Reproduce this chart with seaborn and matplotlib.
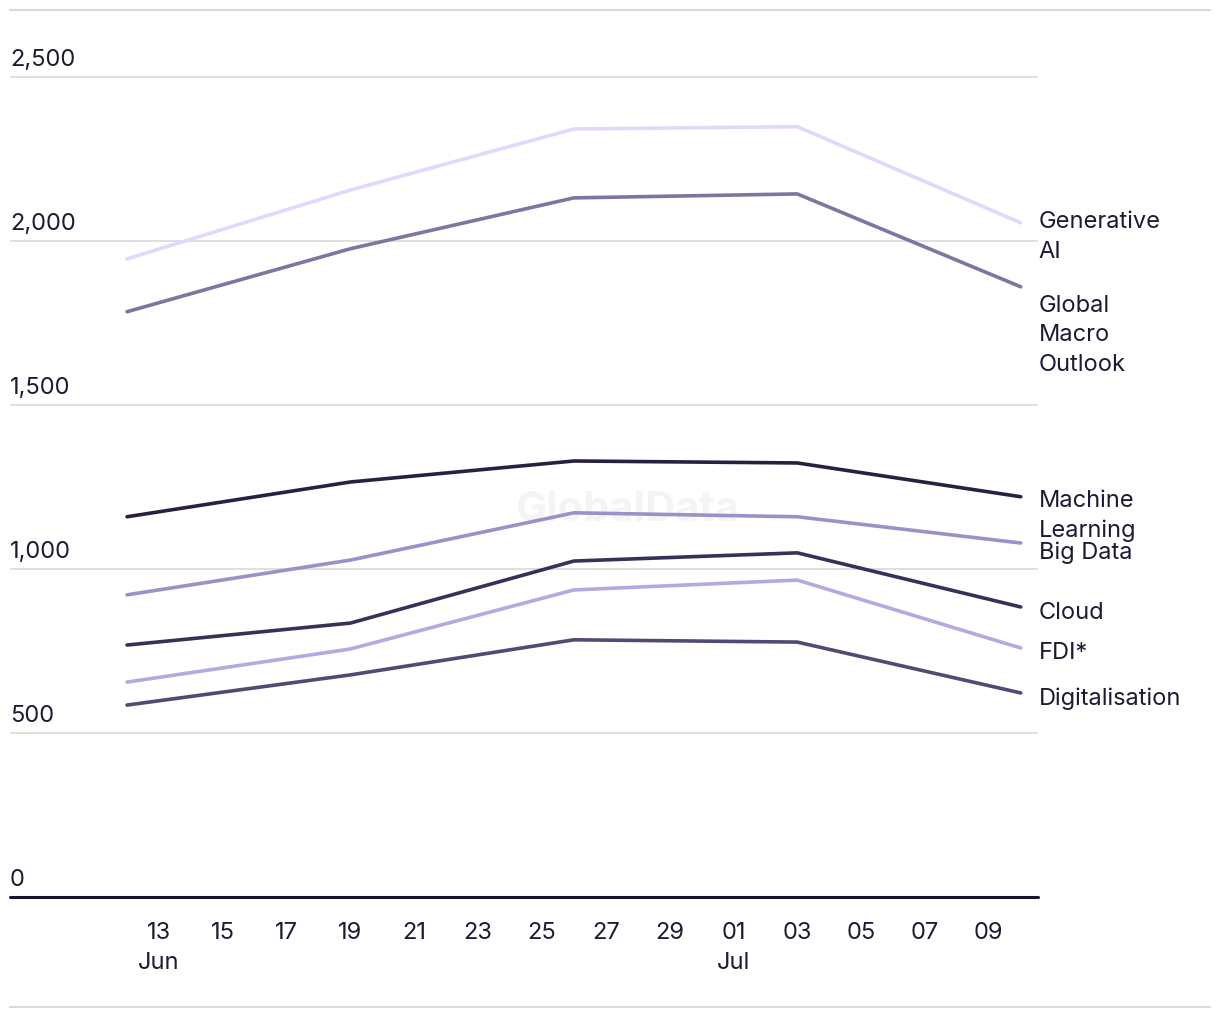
import pandas as pd
import matplotlib.pyplot as plt
from matplotlib.lines import Line2D
import seaborn as sns

# Datos
fechas = ["2023-06-12", "2023-06-19", "2023-06-26", "2023-07-03", "2023-07-10"]
generative_ai = [1945, 2155, 2341, 2348, 2055]
global_macro = [1784, 1976, 2131, 2143, 1860]
machine_learning = [1159, 1265, 1329, 1323, 1220]
big_data = [921, 1027, 1171, 1159, 1079]
cloud = [768, 835, 1024, 1049, 884]
fdi = [655, 756, 936, 966, 759]
digitalisation = [585, 677, 784, 777, 622]

series = {
    "Generative\nAI": generative_ai,
    "Global\nMacro\nOutlook": global_macro,
    "Machine\nLearning": machine_learning,
    "Big Data": big_data,
    "Cloud": cloud,
    "FDI*": fdi,
    "Digitalisation": digitalisation,
}
colores = ["#dedafb", "#7c76a2", "#24233f", "#9a92c6", "#35325a", "#b2abdf", "#504a74"]
# posicion vertical de las etiquetas (evitan solaparse)
label_y = [2015, 1715, 1165, 1052, 869, 747, 607]

df = pd.DataFrame(series)
df["fecha"] = pd.to_datetime(fechas)
df_largo = df.melt(id_vars="fecha", var_name="serie", value_name="valor")

sns.set_style("white")
plt.rcParams["font.family"] = ["Inter", "DejaVu Sans"]
texto = "#1c1b33"

fig = plt.figure(figsize=(12.2, 10.2), dpi=100)
ax = fig.add_axes([10 / 1220, 1 - 898 / 1020, 1028 / 1220, (898 - 45) / 1020])

sns.lineplot(data=df_largo, x="fecha", y="valor", hue="serie", palette=colores,
             linewidth=2.6, legend=False, ax=ax)

ax.set_ylim(0, 2600)
ax.set_xlim(pd.Timestamp("2023-06-08 08:00"), pd.Timestamp("2023-07-10 13:00"))

# Cuadricula y etiquetas del eje y
for v in [500, 1000, 1500, 2000, 2500]:
    ax.axhline(v, color="#d9d9d9", linewidth=1.2, zorder=0)
for v in [0, 500, 1000, 1500, 2000, 2500]:
    ax.text(0, v + 20, f"{v:,}", transform=ax.get_yaxis_transform(),
            fontsize=17, color=texto, va="bottom", ha="left")
ax.axhline(0, color="#15142a", linewidth=2.2, zorder=3, clip_on=False)

ax.set_yticks([])
for s in ax.spines.values():
    s.set_visible(False)

# Eje x
ticks = pd.date_range("2023-06-13", "2023-07-09", freq="2D")
ax.set_xticks(ticks)
etiquetas = [d.strftime("%d") + ("\n" + d.strftime("%b") if d.day in (13, 1) else "") for d in ticks]
ax.set_xticklabels(etiquetas, fontsize=17, color=texto, linespacing=1.5, va="top")
ax.tick_params(axis="x", length=0, pad=17)
ax.set_xlabel("")
ax.set_ylabel("")

# Etiquetas de las series a la derecha
for (nombre, valores), y in zip(series.items(), label_y):
    ax.annotate(nombre, xy=(1.0, y), xycoords=("axes fraction", "data"),
                xytext=(0.5, 0), textcoords="offset points",
                fontsize=17, color=texto, va="center", ha="left", linespacing=1.45,
                annotation_clip=False)

# Marca de agua
ax.text(0.6, 0.455, "GlobalData", transform=ax.transAxes, fontsize=30,
        fontweight="bold", color="#f4f4f4", ha="center", va="center", zorder=0)

# Lineas superior e inferior de la figura
fig.add_artist(Line2D([10 / 1220, 1210 / 1220], [1 - 11 / 1020] * 2, color="#d9d9d9", linewidth=1.5))
fig.add_artist(Line2D([10 / 1220, 1210 / 1220], [1 - 1008 / 1020] * 2, color="#d9d9d9", linewidth=1.5))

fig.savefig("out.png", dpi=100)
